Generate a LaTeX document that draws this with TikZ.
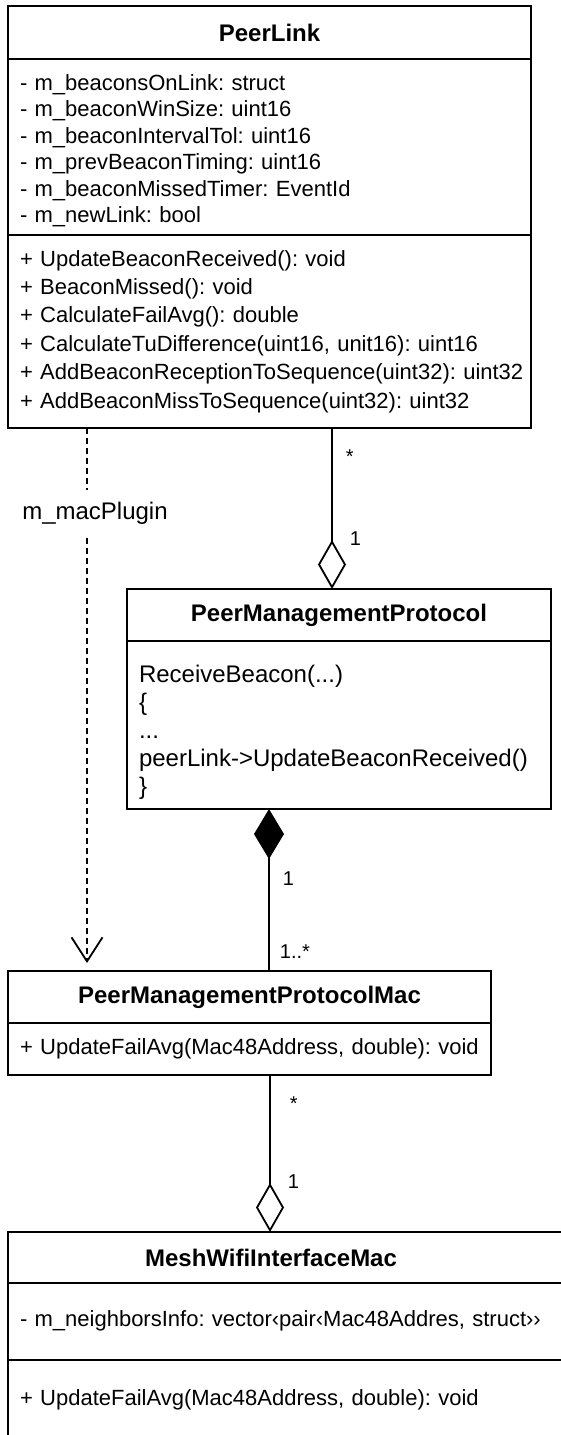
\documentclass[tikz,border=0pt]{standalone}
\usepackage{fontspec}
\setmainfont{Liberation Sans}
\frenchspacing
\usetikzlibrary{arrows.meta,positioning}

\tikzset{
  box/.style={draw, line width=1.8pt, outer sep=0pt, inner xsep=12pt, inner ysep=0pt},
  classname/.style={box, anchor=north west, font=\bfseries\fontsize{24}{28}\selectfont},
  members/.style={box, font=\fontsize{22}{#1}\selectfont},
  code/.style={box, font=\fontsize{24}{28}\selectfont},
  mult/.style={inner sep=0pt, font=\fontsize{20}{24}\selectfont},
  link/.style={line width=1.8pt},
  aggr/.style={link, -{Diamond[open,length=49pt,width=28pt]}},
  compo/.style={link, {Diamond[length=50pt,width=30pt]}-},
  uses/.style={link, dash pattern=on 6pt off 4pt, -{Straight Barb[length=24pt,width=31pt]}, shorten >=8pt},
}

% lines of a compartment, optionally lowered
\providecommand{\Lines}[2][0pt]{\raisebox{-#1}[\height][\depth]{\begin{tabular}{@{}l@{}}#2\end{tabular}}}

\begin{document}
\begin{tikzpicture}[x=1pt,y=-1pt]
\useasboundingbox (0,0) rectangle (561,1435);
\clip (0,0) rectangle (561,1435);

% PeerLink
\node[classname, minimum width=523pt, minimum height=53pt] (pl) at (8,6) {PeerLink};
\node[members=26.5pt, text width=499pt, minimum height=176pt, below=0pt of pl] (plattr) {\Lines[4pt]{
- m\_beaconsOnLink: struct\\
- m\_beaconWinSize: uint16\\
- m\_beaconIntervalTol: uint16\\
- m\_prevBeaconTiming: uint16\\
- m\_beaconMissedTimer: EventId\\
- m\_newLink: bool}};
\node[members=28.4pt, text width=499pt, minimum height=193pt, below=0pt of plattr] (plops) {\Lines{
+ UpdateBeaconReceived(): void\\
+ BeaconMissed(): void\\
+ CalculateFailAvg(): double\\
+ CalculateTuDifference(uint16, unit16): uint16\\
+ AddBeaconReceptionToSequence(uint32): uint32\\
+ AddBeaconMissToSequence(uint32): uint32}};

% PeerManagementProtocol
\node[classname, minimum width=424pt, minimum height=52pt] (pmp) at (127,589) {PeerManagementProtocol};
\node[code, text width=400pt, minimum height=168pt, below=0pt of pmp] (pmpbody) {\Lines[8pt]{
ReceiveBeacon(...)\\
\{\\
...\\
peerLink->UpdateBeaconReceived()\\
\}}};

% PeerManagementProtocolMac
\node[classname, minimum width=483pt, minimum height=52pt] (pmpm) at (8,971) {PeerManagementProtocolMac};
\node[members=26pt, text width=459pt, minimum height=52pt, below=0pt of pmpm] (pmpmops) {\Lines{
+ UpdateFailAvg(Mac48Address, double): void}};

% MeshWifiInterfaceMac (runs past the right and bottom edge)
\node[classname, minimum width=562pt, minimum height=51pt,
  label={[name=meshname, font=\bfseries\fontsize{24}{28}\selectfont, xshift=-18pt]center:MeshWifiInterfaceMac}] (mesh) at (8,1232) {};
\node[members=26pt, text width=538pt, minimum height=77pt, below=0pt of mesh] (meshattr) {\Lines{
- m\_neighborsInfo: vector‹pair‹Mac48Addres, struct››}};
\node[members=26pt, text width=538pt, minimum height=80pt, below=0pt of meshattr] (meshops) {\Lines{
+ UpdateFailAvg(Mac48Address, double): void}};

% relations
\coordinate (plmac) at ([xshift=-182.5pt]plops.south);
\draw[uses] (plmac) -- (plmac |- pmpm.north)
  node[pos=.157, xshift=8pt, fill=white, inner xsep=2pt, inner ysep=12pt, font=\fontsize{24}{28}\selectfont] (macplugin) {m\_macPlugin};

\coordinate (plpmp) at ([xshift=62.5pt]plops.south);
\draw[aggr] (plpmp) -- (plpmp |- pmp.north)
  node[mult, pos=.18, right=13pt] (m1) {*}
  node[mult, pos=.69, right=17pt] (m2) {1};

\coordinate (pmppm) at ([xshift=-70pt]pmpbody.south);
\draw[compo] (pmppm) -- (pmppm |- pmpm.north)
  node[mult, pos=.43, right=13pt] (m3) {1}
  node[mult, pos=.88, right=10pt] (m4) {1..*};

\coordinate (pmmesh) at ([xshift=20.5pt]pmpmops.south);
\draw[aggr] (pmmesh) -- (pmmesh |- mesh.north)
  node[mult, pos=.185, right=19pt] (m5) {*}
  node[mult, pos=.68, right=17pt] (m6) {1};
\end{tikzpicture}
\end{document}
